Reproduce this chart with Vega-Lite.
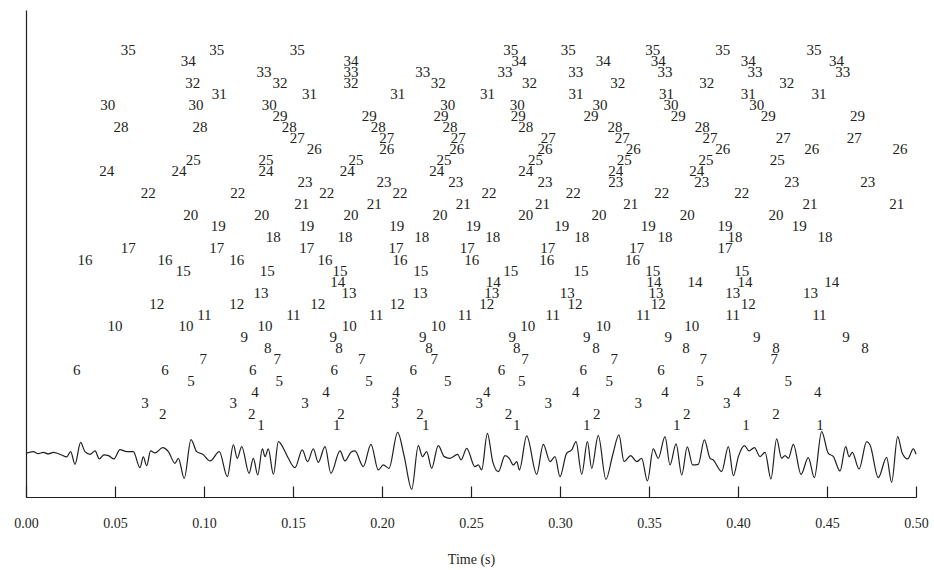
{
  "$schema": "https://vega.github.io/schema/vega-lite/v6.json",
  "autosize": {"type": "none"},
  "padding": {"left": 26, "top": 10, "right": 18, "bottom": 73},
  "width": 890,
  "height": 487,
  "config": {
    "view": {"stroke": null},
    "font": "Liberation Serif",
    "axis": {"grid": false, "domainColor": "#231f20", "tickColor": "#231f20", "labelColor": "#231f20", "titleColor": "#231f20", "labelFont": "Liberation Serif", "titleFont": "Liberation Serif"}
  },
  "datasets": {
    "wave": [
      {"t":0.0,"a":0},{"t":0.0041,"a":0.083},{"t":0.0069,"a":-0.017},{"t":0.0097,"a":0.05},{"t":0.0125,"a":-0.033},{"t":0.0154,"a":0.05},{"t":0.0176,"a":0},{"t":0.0200,"a":-0.083},{"t":0.0228,"a":-0.183},{"t":0.0251,"a":0.083},{"t":0.0275,"a":-0.55},{"t":0.0307,"a":0.55},{"t":0.0331,"a":0.083},{"t":0.0360,"a":-0.05},{"t":0.0388,"a":0.117},{"t":0.0412,"a":-0.283},{"t":0.0438,"a":-0.083},{"t":0.0463,"a":-0.117},{"t":0.0494,"a":-0.283},{"t":0.0528,"a":0.183},{"t":0.0566,"a":0.083},{"t":0.0603,"a":0.083},{"t":0.0640,"a":-0.717},{"t":0.0659,"a":-0.183},{"t":0.0678,"a":-0.617},{"t":0.0700,"a":0.117},{"t":0.0725,"a":0.017},{"t":0.0768,"a":0.283},{"t":0.0800,"a":0.083},{"t":0.0837,"a":-0.5},{"t":0.0856,"a":-0.25},{"t":0.0889,"a":-1.25},{"t":0.0927,"a":0.683},{"t":0.0959,"a":0.083},{"t":0.0993,"a":-0.05},{"t":0.1034,"a":-0.383},{"t":0.1086,"a":0.083},{"t":0.1131,"a":-1.167},{"t":0.1165,"a":0.417},{"t":0.1187,"a":-0.25},{"t":0.1212,"a":0.333},
      {"t":0.1253,"a":-1.0},{"t":0.1277,"a":-0.25},{"t":0.1302,"a":-1.083},{"t":0.1328,"a":0.217},{"t":0.1343,"a":-0.167},{"t":0.1361,"a":0.217},{"t":0.1390,"a":-1.05},{"t":0.1418,"a":0.583},{"t":0.1451,"a":0.167},{"t":0.1474,"a":-0.25},{"t":0.1511,"a":-0.717},{"t":0.1552,"a":0.167},{"t":0.1582,"a":-0.417},{"t":0.1614,"a":0.217},{"t":0.1642,"a":-0.45},{"t":0.1680,"a":0.333},{"t":0.1713,"a":-1.0},{"t":0.1764,"a":0.117},{"t":0.1792,"a":-0.383},{"t":0.1826,"a":0.05},{"t":0.1848,"a":0.117},{"t":0.1895,"a":-0.667},{"t":0.1938,"a":0.45},{"t":0.1979,"a":-0.833},{"t":0.2007,"a":-0.583},{"t":0.2039,"a":-0.75},{"t":0.2088,"a":1.05},{"t":0.2125,"a":-0.167},{"t":0.2167,"a":-1.8},{"t":0.2204,"a":0.383},{"t":0.2227,"a":-0.167},{"t":0.2251,"a":0.083},{"t":0.2279,"a":-0.75},{"t":0.2316,"a":0.383},{"t":0.2350,"a":-0.167},{"t":0.2382,"a":-0.25},{"t":0.2425,"a":-0.05},{"t":0.2444,"a":-0.333},{"t":0.2476,"a":0.25},{"t":0.2522,"a":-0.667},
      {"t":0.2541,"a":-0.583},{"t":0.2560,"a":-0.833},{"t":0.2592,"a":1.0},{"t":0.2622,"a":-0.417},{"t":0.2654,"a":-0.917},{"t":0.2691,"a":-0.117},{"t":0.2715,"a":-0.25},{"t":0.2738,"a":-0.583},{"t":0.2757,"a":-0.417},{"t":0.2772,"a":-0.833},{"t":0.2813,"a":0.867},{"t":0.2869,"a":-1.05},{"t":0.2906,"a":0.45},{"t":0.2944,"a":-0.417},{"t":0.2972,"a":-0.167},{"t":0.3000,"a":-1.167},{"t":0.3037,"a":0},{"t":0.3066,"a":0.167},{"t":0.3090,"a":0.583},{"t":0.3122,"a":-1.05},{"t":0.3154,"a":0.583},{"t":0.3178,"a":-0.75},{"t":0.3215,"a":0.883},{"t":0.3258,"a":-1.3},{"t":0.3296,"a":-0.083},{"t":0.3331,"a":0.917},{"t":0.3360,"a":-0.417},{"t":0.3397,"a":-0.117},{"t":0.3431,"a":-0.417},{"t":0.3459,"a":-0.25},{"t":0.3491,"a":-1.383},{"t":0.3524,"a":0.217},{"t":0.3552,"a":-0.25},{"t":0.3590,"a":0.833},{"t":0.3618,"a":-0.583},{"t":0.3652,"a":0.467},{"t":0.3684,"a":-1.083},{"t":0.3715,"a":0.317},{"t":0.3745,"a":-0.583},
      {"t":0.3777,"a":-0.55},{"t":0.3811,"a":0.667},{"t":0.3843,"a":-0.25},{"t":0.3861,"a":-0.333},{"t":0.3908,"a":-0.917},{"t":0.3946,"a":0.333},{"t":0.3974,"a":-1.117},{"t":0.4002,"a":-0.167},{"t":0.4036,"a":0.383},{"t":0.4062,"a":0.117},{"t":0.4092,"a":0.283},{"t":0.4124,"a":-0.167},{"t":0.4152,"a":0.05},{"t":0.4185,"a":-1.283},{"t":0.4217,"a":0.717},{"t":0.4245,"a":-0.25},{"t":0.4264,"a":-0.117},{"t":0.4283,"a":-0.25},{"t":0.4311,"a":0.45},{"t":0.4354,"a":-1.05},{"t":0.4395,"a":-0.217},{"t":0.4429,"a":-1.217},{"t":0.4470,"a":1.083},{"t":0.4507,"a":0},{"t":0.4536,"a":-0.167},{"t":0.4573,"a":-0.883},{"t":0.4605,"a":0.333},{"t":0.4624,"a":-0.167},{"t":0.4642,"a":0.05},{"t":0.4680,"a":-0.783},{"t":0.4723,"a":0.583},{"t":0.4742,"a":0.417},{"t":0.4788,"a":-1.217},{"t":0.4835,"a":-0.2},{"t":0.4863,"a":-1.45},{"t":0.4897,"a":0.833},{"t":0.4923,"a":0},{"t":0.4953,"a":-0.283},{"t":0.4985,"a":0.217},{"t":0.5000,"a":-0.05}
    ],
    "labels": [
      {"n":35,"t":0.0575},{"n":35,"t":0.1071},{"n":35,"t":0.1524},{"n":35,"t":0.2723},{"n":35,"t":0.3047},{"n":35,"t":0.3521},{"n":35,"t":0.3914},{"n":35,"t":0.4427},
      {"n":34,"t":0.0912},{"n":34,"t":0.1826},{"n":34,"t":0.2770},{"n":34,"t":0.3243},{"n":34,"t":0.3552},{"n":34,"t":0.4058},{"n":34,"t":0.4554},
      {"n":33,"t":0.1337},{"n":33,"t":0.1826},{"n":33,"t":0.2229},{"n":33,"t":0.2691},{"n":33,"t":0.3088},{"n":33,"t":0.3590},{"n":33,"t":0.4096},{"n":33,"t":0.4588},
      {"n":32,"t":0.0937},{"n":32,"t":0.1427},{"n":32,"t":0.1826},{"n":32,"t":0.2316},{"n":32,"t":0.2828},{"n":32,"t":0.3324},{"n":32,"t":0.3824},{"n":32,"t":0.4274},
      {"n":31,"t":0.1086},{"n":31,"t":0.1592},{"n":31,"t":0.2088},{"n":31,"t":0.2592},{"n":31,"t":0.3090},{"n":31,"t":0.3599},{"n":31,"t":0.4058},{"n":31,"t":0.4455},
      {"n":30,"t":0.0459},{"n":30,"t":0.0955},{"n":30,"t":0.1367},{"n":30,"t":0.2369},{"n":30,"t":0.2760},{"n":30,"t":0.3225},{"n":30,"t":0.3624},{"n":30,"t":0.4105},
      {"n":29,"t":0.1427},{"n":29,"t":0.1929},{"n":29,"t":0.2331},{"n":29,"t":0.2766},{"n":29,"t":0.3174},{"n":29,"t":0.3665},{"n":29,"t":0.4170},{"n":29,"t":0.4672},
      {"n":28,"t":0.0534},{"n":28,"t":0.0978},{"n":28,"t":0.1479},{"n":28,"t":0.1979},{"n":28,"t":0.2382},{"n":28,"t":0.2807},{"n":28,"t":0.3309},{"n":28,"t":0.3799},
      {"n":27,"t":0.1524},{"n":27,"t":0.2026},{"n":27,"t":0.2429},{"n":27,"t":0.2934},{"n":27,"t":0.3350},{"n":27,"t":0.3843},{"n":27,"t":0.4254},{"n":27,"t":0.4653},
      {"n":26,"t":0.1620},{"n":26,"t":0.2026},{"n":26,"t":0.2420},{"n":26,"t":0.2916},{"n":26,"t":0.3412},{"n":26,"t":0.3914},{"n":26,"t":0.4414},{"n":26,"t":0.4910},
      {"n":25,"t":0.0940},{"n":25,"t":0.1348},{"n":25,"t":0.1854},{"n":25,"t":0.2348},{"n":25,"t":0.2863},{"n":25,"t":0.3361},{"n":25,"t":0.3820},{"n":25,"t":0.4221},
      {"n":24,"t":0.0453},{"n":24,"t":0.0860},{"n":24,"t":0.1348},{"n":24,"t":0.1805},{"n":24,"t":0.2307},{"n":24,"t":0.2807},{"n":24,"t":0.3313},{"n":24,"t":0.3768},
      {"n":23,"t":0.1567},{"n":23,"t":0.2011},{"n":23,"t":0.2414},{"n":23,"t":0.2916},{"n":23,"t":0.3313},{"n":23,"t":0.3796},{"n":23,"t":0.4302},{"n":23,"t":0.4729},
      {"n":22,"t":0.0687},{"n":22,"t":0.1189},{"n":22,"t":0.1689},{"n":22,"t":0.2101},{"n":22,"t":0.2601},{"n":22,"t":0.3075},{"n":22,"t":0.3571},{"n":22,"t":0.4021},
      {"n":21,"t":0.1549},{"n":21,"t":0.1957},{"n":21,"t":0.2457},{"n":21,"t":0.2901},{"n":21,"t":0.3397},{"n":21,"t":0.4404},{"n":21,"t":0.4892},
      {"n":20,"t":0.0925},{"n":20,"t":0.1324},{"n":20,"t":0.1826},{"n":20,"t":0.2326},{"n":20,"t":0.2807},{"n":20,"t":0.3219},{"n":20,"t":0.3715},{"n":20,"t":0.4213},
      {"n":19,"t":0.1080},{"n":19,"t":0.1577},{"n":19,"t":0.2083},{"n":19,"t":0.2513},{"n":19,"t":0.3010},{"n":19,"t":0.3496},{"n":19,"t":0.3927},{"n":19,"t":0.4344},
      {"n":18,"t":0.1389},{"n":18,"t":0.1792},{"n":18,"t":0.2223},{"n":18,"t":0.2622},{"n":18,"t":0.3122},{"n":18,"t":0.3590},{"n":18,"t":0.3983},{"n":18,"t":0.4489},
      {"n":17,"t":0.0575},{"n":17,"t":0.1071},{"n":17,"t":0.1577},{"n":17,"t":0.2079},{"n":17,"t":0.2479},{"n":17,"t":0.2931},{"n":17,"t":0.3431},{"n":17,"t":0.3927},
      {"n":16,"t":0.0331},{"n":16,"t":0.0781},{"n":16,"t":0.1184},{"n":16,"t":0.1680},{"n":16,"t":0.2101},{"n":16,"t":0.2504},{"n":16,"t":0.2925},{"n":16,"t":0.3408},
      {"n":15,"t":0.0884},{"n":15,"t":0.1356},{"n":15,"t":0.1764},{"n":15,"t":0.2217},{"n":15,"t":0.2723},{"n":15,"t":0.3118},{"n":15,"t":0.3521},{"n":15,"t":0.4021},
      {"n":14,"t":0.1751},{"n":14,"t":0.2625},{"n":14,"t":0.3528},{"n":14,"t":0.3758},{"n":14,"t":0.4039},{"n":14,"t":0.4526},
      {"n":13,"t":0.1320},{"n":13,"t":0.1815},{"n":13,"t":0.2213},{"n":13,"t":0.2616},{"n":13,"t":0.3041},{"n":13,"t":0.3539},{"n":13,"t":0.3970},{"n":13,"t":0.4408},
      {"n":12,"t":0.0734},{"n":12,"t":0.1184},{"n":12,"t":0.1639},{"n":12,"t":0.2086},{"n":12,"t":0.2588},{"n":12,"t":0.3084},{"n":12,"t":0.3552},{"n":12,"t":0.4058},
      {"n":11,"t":0.1002},{"n":11,"t":0.1502},{"n":11,"t":0.1966},{"n":11,"t":0.2466},{"n":11,"t":0.2959},{"n":11,"t":0.3468},{"n":11,"t":0.3970},{"n":11,"t":0.4457},
      {"n":10,"t":0.0500},{"n":10,"t":0.0899},{"n":10,"t":0.1343},{"n":10,"t":0.1816},{"n":10,"t":0.2316},{"n":10,"t":0.2819},{"n":10,"t":0.3243},{"n":10,"t":0.3740},
      {"n":9,"t":0.1226},{"n":9,"t":0.1726},{"n":9,"t":0.2229},{"n":9,"t":0.2732},{"n":9,"t":0.3150},{"n":9,"t":0.3608},{"n":9,"t":0.4105},{"n":9,"t":0.4607},
      {"n":8,"t":0.1358},{"n":8,"t":0.1758},{"n":8,"t":0.2264},{"n":8,"t":0.2757},{"n":8,"t":0.3202},{"n":8,"t":0.3708},{"n":8,"t":0.4213},{"n":8,"t":0.4713},
      {"n":7,"t":0.0996},{"n":7,"t":0.1412},{"n":7,"t":0.1886},{"n":7,"t":0.2294},{"n":7,"t":0.2803},{"n":7,"t":0.3305},{"n":7,"t":0.3805},{"n":7,"t":0.4204},
      {"n":6,"t":0.0285},{"n":6,"t":0.0781},{"n":6,"t":0.1274},{"n":6,"t":0.1732},{"n":6,"t":0.2176},{"n":6,"t":0.2672},{"n":6,"t":0.3131},{"n":6,"t":0.3567},
      {"n":5,"t":0.0927},{"n":5,"t":0.1423},{"n":5,"t":0.1927},{"n":5,"t":0.2369},{"n":5,"t":0.2785},{"n":5,"t":0.3277},{"n":5,"t":0.3787},{"n":5,"t":0.4283},
      {"n":4,"t":0.1287},{"n":4,"t":0.1685},{"n":4,"t":0.2079},{"n":4,"t":0.2588},{"n":4,"t":0.3088},{"n":4,"t":0.3590},{"n":4,"t":0.3993},{"n":4,"t":0.4448},
      {"n":3,"t":0.0669},{"n":3,"t":0.1165},{"n":3,"t":0.1567},{"n":3,"t":0.2073},{"n":3,"t":0.2547},{"n":3,"t":0.2934},{"n":3,"t":0.3440},{"n":3,"t":0.3937},
      {"n":2,"t":0.0768},{"n":2,"t":0.1268},{"n":2,"t":0.1770},{"n":2,"t":0.2213},{"n":2,"t":0.2710},{"n":2,"t":0.3206},{"n":2,"t":0.3712},{"n":2,"t":0.4213},
      {"n":1,"t":0.1320},{"n":1,"t":0.1746},{"n":1,"t":0.2246},{"n":1,"t":0.2757},{"n":1,"t":0.3150},{"n":1,"t":0.3656},{"n":1,"t":0.4045},{"n":1,"t":0.4461}
    ]
  },
  "layer": [
    {
      "data": {"name": "wave"},
      "mark": {"type": "line", "interpolate": "monotone", "color": "#231f20", "strokeWidth": 1.2},
      "encoding": {
        "x": {"field": "t", "type": "quantitative", "scale": {"domain": [0, 0.5], "nice": false, "zero": false},
          "axis": {"title": "Time (s)", "values": [0, 0.05, 0.1, 0.15, 0.2, 0.25, 0.3, 0.35, 0.4, 0.45, 0.5], "format": ".2f", "tickSize": -11, "labelPadding": 30, "labelFontSize": 14, "titleFontSize": 14, "titleFontWeight": "normal", "titlePadding": 22, "domainWidth": 1.2, "tickWidth": 1.2, "labelFlush": false}},
        "y": {"field": "a", "type": "quantitative", "scale": {"domain": [-2.185, 22.165], "nice": false, "zero": false},
          "axis": {"title": null, "labels": false, "ticks": false, "domain": true, "domainWidth": 1.2}}
      }
    },
    {
      "data": {"name": "labels"},
      "mark": {"type": "text", "font": "Liberation Serif", "fontSize": 15, "color": "#231f20", "align": "center", "baseline": "middle"},
      "encoding": {
        "x": {"field": "t", "type": "quantitative"},
        "y": {"field": "n", "type": "quantitative", "scale": {"domain": [-5.49, 38.58], "nice": false, "zero": false}, "axis": null},
        "text": {"field": "n", "type": "quantitative"}
      }
    }
  ],
  "resolve": {"scale": {"y": "independent"}}
}
